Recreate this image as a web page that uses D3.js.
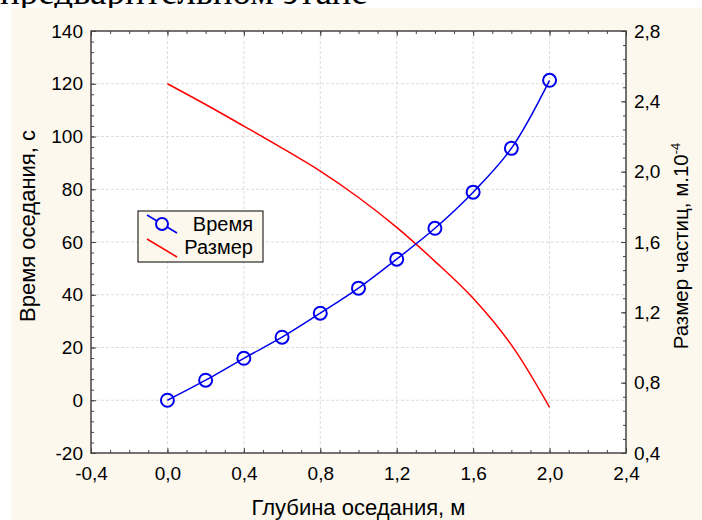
<!DOCTYPE html>
<html>
<head>
    <meta charset="utf-8">
    <style type="text/css">
        body {
            margin: 0;
            background-color: white;
        }
        svg text {
            font-family: "Liberation Sans", Arial, sans-serif;
        }
    </style>
    <script src="https://d3js.org/d3.v7.min.js"></script>
</head>
<body>
    <svg id="chart" width="702" height="520"></svg>
    <script>
        // depth values (m)
        var depth = [0.0, 0.2, 0.4, 0.6, 0.8, 1.0, 1.2, 1.4, 1.6, 1.8, 2.0];
        // settling time (s)
        var timeSec = [0, 7.6, 15.9, 23.9, 33.0, 42.5, 53.5, 65.2, 78.9, 95.5, 121.3];
        // particle size (m*10^-4)
        var particleSize = [2.50, 2.382, 2.259, 2.134, 2.003, 1.853, 1.683, 1.49, 1.28, 1.015, 0.66];

        var xTicks = [-0.4, 0.0, 0.4, 0.8, 1.2, 1.6, 2.0, 2.4];
        var yLeftTicks = [-20, 0, 20, 40, 60, 80, 100, 120, 140];
        var yRightTicks = [0.4, 0.8, 1.2, 1.6, 2.0, 2.4, 2.8];

        var legendNames = ["Время", "Размер"];

        var svg = d3.select("#chart");
        var margin = { top: 31, left: 91, right: 76, bottom: 67 };
        var width = 702 - margin.left - margin.right,
            height = 520 - margin.top - margin.bottom;

        var beige = "#fcf8ed";

        // cut off text line above the figure
        svg.append("text")
            .attr("x", 0).attr("y", 4)
            .style("font-family", "'Liberation Serif', serif")
            .style("font-size", "37px")
            .attr("fill", "#000")
            .text("предварительном этапе");
        svg.append("rect").attr("x", 11).attr("y", 8).attr("width", 702).attr("height", 520).attr("fill", beige);

        var x = d3.scaleLinear().domain([-0.4, 2.4]).range([0, width]);
        var yL = d3.scaleLinear().domain([-20, 140]).range([height, 0]);
        var yR = d3.scaleLinear().domain([0.4, 2.8]).range([height, 0]);

        var comma = function (d) { return d3.format(".1f")(d).replace(".", ",").replace("−", "-"); };
        var plain = function (d) { return String(d); };

        var g = svg.append("g").attr("transform", "translate(" + margin.left + "," + margin.top + ")");

        g.append("rect").attr("width", width).attr("height", height).attr("fill", "white");

        // grid
        g.selectAll(".gx").data(xTicks.slice(1, -1)).enter().append("line")
            .attr("x1", function (d) { return x(d); }).attr("x2", function (d) { return x(d); })
            .attr("y1", 0).attr("y2", height)
            .attr("stroke", "#dcdcdc").attr("stroke-dasharray", "3,2");
        g.selectAll(".gy").data(yLeftTicks.slice(1, -1)).enter().append("line")
            .attr("x1", 0).attr("x2", width)
            .attr("y1", function (d) { return yL(d); }).attr("y2", function (d) { return yL(d); })
            .attr("stroke", "#dcdcdc").attr("stroke-dasharray", "3,2");

        function styleAxis(sel) {
            sel.select(".domain").remove();
            sel.selectAll("line").attr("stroke", "#444");
            sel.selectAll("text").style("font-size", "19px").attr("fill", "#000");
        }

        var xMinor = d3.range(-0.4, 2.401, 0.1);
        var yMinor = d3.range(-20, 140.1, 4);
        var yRMinor = d3.range(0.4, 2.801, 0.08);

        // minor ticks
        g.append("g").attr("transform", "translate(0," + height + ")")
            .call(d3.axisBottom(x).tickValues(xMinor).tickSize(-3).tickFormat("")).call(styleAxis);
        g.append("g").call(d3.axisTop(x).tickValues(xMinor).tickSize(-3).tickFormat("")).call(styleAxis);
        g.append("g").call(d3.axisLeft(yL).tickValues(yMinor).tickSize(-3).tickFormat("")).call(styleAxis);
        g.append("g").attr("transform", "translate(" + width + ",0)")
            .call(d3.axisRight(yR).tickValues(yRMinor).tickSize(-3).tickFormat("")).call(styleAxis);

        // major ticks + labels
        g.append("g").attr("transform", "translate(0," + height + ")")
            .call(d3.axisBottom(x).tickValues(xTicks).tickSize(-5).tickPadding(14).tickFormat(comma)).call(styleAxis);
        g.append("g").call(d3.axisTop(x).tickValues(xTicks).tickSize(-5).tickFormat("")).call(styleAxis);
        g.append("g").call(d3.axisLeft(yL).tickValues(yLeftTicks).tickSize(-5).tickPadding(8).tickFormat(plain)).call(styleAxis);
        g.append("g").attr("transform", "translate(" + width + ",0)")
            .call(d3.axisRight(yR).tickValues(yRightTicks).tickSize(-5).tickPadding(8).tickFormat(comma)).call(styleAxis);

        // frame
        g.append("rect").attr("width", width).attr("height", height)
            .attr("fill", "none").attr("stroke", "#444").attr("stroke-width", 1.5);

        // size line (red)
        var sizeData = depth.map(function (d, i) { return { x: d, y: particleSize[i] }; });
        g.append("path").datum(sizeData)
            .attr("fill", "none").attr("stroke", "#ff0000").attr("stroke-width", 1.5)
            .attr("d", d3.line().curve(d3.curveCatmullRom).x(function (d) { return x(d.x); }).y(function (d) { return yR(d.y); }));

        // time line (blue)
        var timeData = depth.map(function (d, i) { return { x: d, y: timeSec[i] }; });
        g.append("path").datum(timeData)
            .attr("fill", "none").attr("stroke", "#0000ee").attr("stroke-width", 1.5)
            .attr("d", d3.line().curve(d3.curveCatmullRom).x(function (d) { return x(d.x); }).y(function (d) { return yL(d.y); }));
        g.selectAll(".pt").data(timeData).enter().append("circle")
            .attr("cx", function (d) { return x(d.x); }).attr("cy", function (d) { return yL(d.y); })
            .attr("r", 6.5).attr("fill", "none").attr("stroke", "#0000ee").attr("stroke-width", 2);

        // axis titles
        svg.append("text").attr("x", margin.left + width / 2).attr("y", 515)
            .attr("text-anchor", "middle").style("font-size", "22px").text("Глубина оседания, м");
        svg.append("text").attr("transform", "translate(35,226) rotate(-90)")
            .attr("text-anchor", "middle").style("font-size", "22px").text("Время оседания, с");
        var rt = svg.append("text").attr("transform", "translate(688,246) rotate(-90)")
            .attr("text-anchor", "middle").style("font-size", "20.5px");
        rt.append("tspan").text("Размер частиц, м.10");
        rt.append("tspan").attr("dy", -8).style("font-size", "13px").text("-4");

        // legend
        var lg = svg.append("g").attr("transform", "translate(138,211)");
        lg.append("rect").attr("width", 125).attr("height", 51)
            .attr("fill", beige).attr("stroke", "#000").attr("stroke-width", 1);
        lg.append("line").attr("x1", 9).attr("y1", 4).attr("x2", 39).attr("y2", 22)
            .attr("stroke", "#0000ee").attr("stroke-width", 1.5);
        lg.append("circle").attr("cx", 24).attr("cy", 13).attr("r", 6)
            .attr("fill", beige).attr("stroke", "#0000ee").attr("stroke-width", 2);
        lg.append("line").attr("x1", 9).attr("y1", 28).attr("x2", 39).attr("y2", 46)
            .attr("stroke", "#ff0000").attr("stroke-width", 1.5);
        lg.selectAll(".lt").data(legendNames).enter().append("text")
            .attr("x", 115).attr("y", function (d, i) { return 20 + i * 23; })
            .attr("text-anchor", "end").style("font-size", "20px").text(function (d) { return d; });
    </script>
</body>
</html>
